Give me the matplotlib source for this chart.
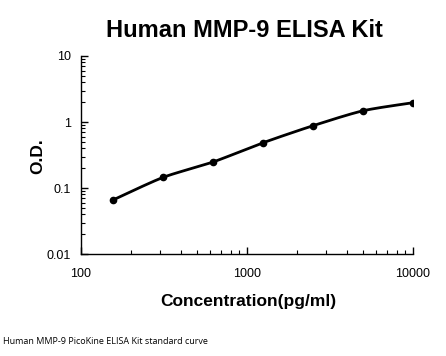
"""
Standard curve plot for the Human MMP-9 ELISA kit
"""

import numpy as np
import matplotlib
matplotlib.use("Agg")
import matplotlib.pyplot as plt
from matplotlib.ticker import LogLocator, FixedLocator, FixedFormatter

# standard points (pg/ml vs O.D.)
concentration = [156.25, 312.5, 625, 1250, 2500, 5000, 10000]
od = [0.066, 0.145, 0.248, 0.485, 0.879, 1.48, 1.96]

x_ticks = [100, 1000, 10000]
x_tick_labels = ["100", "1000", "10000"]
y_ticks = [0.01, 0.1, 1, 10]
y_tick_labels = ["0.01", "0.1", "1", "10"]


def smooth_curve(xs, ys, tension=0.38, n=40):
    """Cardinal spline through the points in log-log space (spreadsheet-style smooth line)."""
    pts = np.column_stack([np.log10(xs), np.log10(ys)])
    ext = np.vstack([pts[0], pts, pts[-1]])
    tang = tension * (ext[2:] - ext[:-2])
    t = np.linspace(0, 1, n)[:, None]
    h00 = 2 * t ** 3 - 3 * t ** 2 + 1
    h10 = t ** 3 - 2 * t ** 2 + t
    h01 = -2 * t ** 3 + 3 * t ** 2
    h11 = t ** 3 - t ** 2
    segs = []
    for i in range(len(pts) - 1):
        segs.append(h00 * pts[i] + h10 * tang[i] + h01 * pts[i + 1] + h11 * tang[i + 1])
    curve = np.vstack(segs)
    return 10 ** curve[:, 0], 10 ** curve[:, 1]


plt.rcParams["font.family"] = ["Liberation Sans", "DejaVu Sans"]

fig = plt.figure(figsize=(4.46, 3.56), dpi=100)
ax = fig.add_axes([0.1816, 0.2865, 0.7444, 0.5562])

cx, cy = smooth_curve(concentration, od)
ax.plot(cx, cy, color="black", linewidth=2.0, solid_capstyle="round")
ax.plot(concentration, od, "o", color="black", markersize=4.5)

ax.set_xscale("log")
ax.set_yscale("log")
ax.set_xlim(100, 10000)
ax.set_ylim(0.01, 10)

ax.xaxis.set_major_locator(FixedLocator(x_ticks))
ax.xaxis.set_major_formatter(FixedFormatter(x_tick_labels))
ax.yaxis.set_major_locator(FixedLocator(y_ticks))
ax.yaxis.set_major_formatter(FixedFormatter(y_tick_labels))
ax.xaxis.set_minor_locator(LogLocator(base=10, subs=np.arange(2, 10)))
ax.yaxis.set_minor_locator(LogLocator(base=10, subs=np.arange(2, 10)))
ax.xaxis.set_minor_formatter(plt.NullFormatter())
ax.yaxis.set_minor_formatter(plt.NullFormatter())

ax.tick_params(which="major", direction="in", length=5, width=1, labelsize=9)
ax.tick_params(which="minor", direction="in", length=3, width=0.8)
ax.tick_params(axis="x", which="major", pad=10)
ax.tick_params(axis="y", which="major", pad=7)

for side in ("top", "right"):
    ax.spines[side].set_visible(False)
for side in ("left", "bottom"):
    ax.spines[side].set_linewidth(1)

fig.text(0.549, 0.913, "Human MMP-9 ELISA Kit", ha="center", va="center",
         fontsize=17, fontweight="bold")
fig.text(0.557, 0.154, "Concentration(pg/ml)", ha="center", va="center",
         fontsize=12.5, fontweight="bold")
fig.text(0.084, 0.562, "O.D.", ha="center", va="center", rotation=90,
         fontsize=12.5, fontweight="bold")
fig.text(0.007, 0.040, "Human MMP-9 PicoKine ELISA Kit standard curve",
         ha="left", va="center", fontsize=6.5, family=["Open Sans", "DejaVu Sans"])

fig.savefig("out.png", dpi=100)
